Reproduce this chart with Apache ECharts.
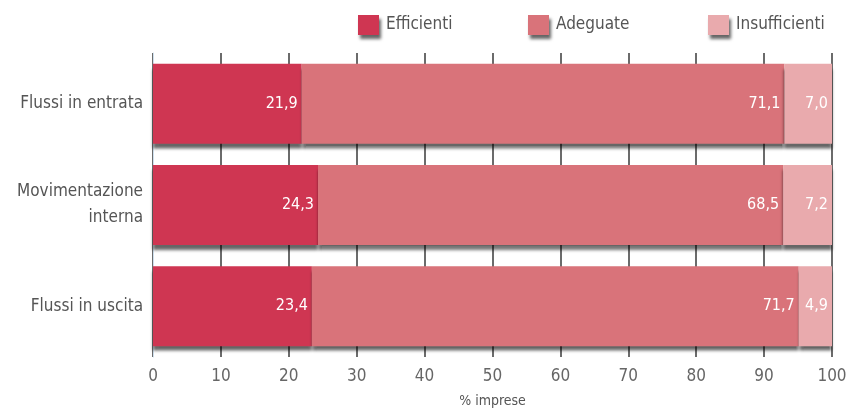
<!DOCTYPE html>
<html>
<head>
<meta charset="utf-8">
<script src="https://cdn.jsdelivr.net/npm/echarts@6/dist/echarts.min.js"></script>
<style>
  html, body { margin: 0; padding: 0; background: #fff; }
  #chart { width: 849px; height: 410px; }
</style>
</head>
<body>
<div id="chart"></div>
<script>
// Categories (top to bottom) and shares of companies per rating
const categories = ['Flussi in entrata', 'Movimentazione\ninterna', 'Flussi in uscita'];
const efficienti = [21.9, 24.3, 23.4];
const adeguate = [71.1, 68.5, 71.7];
const insufficienti = [7.0, 7.2, 4.9];
const seriesNames = ['Efficienti', 'Adeguate', 'Insufficienti'];
const seriesColors = ['#cf3652', '#d9737a', '#e9aaad'];
const xTicks = [0, 10, 20, 30, 40, 50, 60, 70, 80, 90, 100];

const FONT = "'DejaVu Sans Condensed', 'Liberation Sans Narrow', 'Liberation Sans', sans-serif";
const fmt = v => v.toFixed(1).replace('.', ',');

const chart = echarts.init(document.getElementById('chart'), null, { renderer: 'canvas' });

const legendPos = [353, 523, 703];
const legends = seriesNames.map((n, i) => ({
  data: [n],
  left: legendPos[i],
  top: 10,
  itemWidth: 21,
  itemHeight: 20,
  itemGap: 4,
  icon: 'rect',
  textStyle: { fontFamily: FONT, fontSize: 17, color: '#555', padding: [0, 0, 0, 2] },
  itemStyle: { shadowColor: 'rgba(0,0,0,0.6)', shadowBlur: 3, shadowOffsetX: 2, shadowOffsetY: 4 }
}));

function makeSeries(name, values, color) {
  return {
    name: name,
    type: 'bar',
    stack: 'total',
    barWidth: 80,
    data: values,
    itemStyle: {
      color: color,
      shadowColor: 'rgba(0,0,0,0.6)',
      shadowBlur: 3,
      shadowOffsetY: 5
    },
    label: {
      show: true,
      position: 'insideRight',
      distance: 4,
      color: '#fff',
      fontFamily: FONT,
      fontSize: 16,
      formatter: p => fmt(p.value)
    }
  };
}

chart.setOption({
  animation: false,
  legend: legends,
  grid: { left: 153, right: 17, top: 53, bottom: 53, containLabel: false, outerBoundsMode: 'none' },
  xAxis: {
    type: 'value',
    min: 0,
    max: 100,
    interval: 10,
    name: '% imprese',
    nameLocation: 'middle',
    nameGap: 37,
    nameTextStyle: { fontFamily: FONT, fontSize: 14, color: '#555' },
    axisLine: { show: false },
    axisTick: { show: false },
    axisLabel: {
      fontFamily: FONT, fontSize: 17, color: '#666', margin: 11,
      formatter: v => xTicks.includes(v) ? String(v) : ''
    },
    splitLine: { show: true, lineStyle: { color: '#3a3a3a', width: 1.5 } }
  },
  yAxis: {
    type: 'category',
    inverse: true,
    data: categories,
    axisLine: { show: true, lineStyle: { color: '#cfe0ee', width: 1 } },
    axisTick: { show: false },
    axisLabel: {
      fontFamily: FONT, fontSize: 17, color: '#555', margin: 10,
      align: 'right', lineHeight: 26, padding: [8, 0, 0, 0]
    }
  },
  series: [
    makeSeries(seriesNames[0], efficienti, seriesColors[0]),
    makeSeries(seriesNames[1], adeguate, seriesColors[1]),
    makeSeries(seriesNames[2], insufficienti, seriesColors[2])
  ]
});
</script>
</body>
</html>
